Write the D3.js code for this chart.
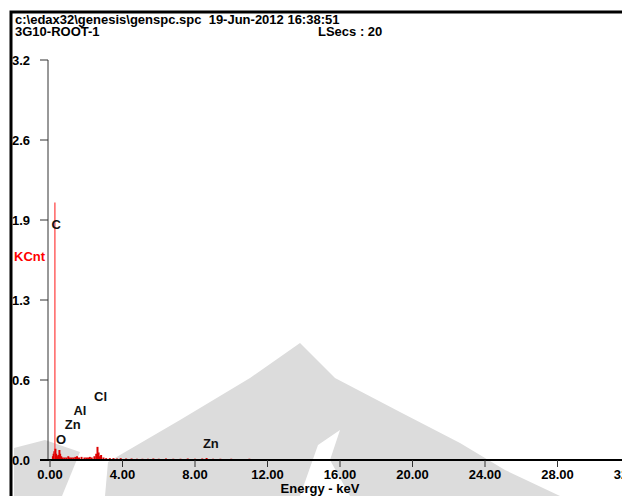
<!DOCTYPE html>
<html>
<head>
<meta charset="utf-8">
<script src="https://cdn.jsdelivr.net/npm/d3@7"></script>
<style>
  body { margin: 0; background: #fff; }
  svg text { font-family: Arial, "Liberation Sans", sans-serif; font-weight: bold; white-space: pre; }
</style>
</head>
<body>
<div id="chart"></div>
<script>
// spectrum channels (keV, KCnt)
const energyKeV = [0.16, 0.20, 0.24, 0.27, 0.30, 0.34, 0.40, 0.46, 0.52, 0.56, 0.62, 0.70, 0.80, 0.90,
  1.01, 1.10, 1.20, 1.30, 1.40, 1.49, 1.60, 1.74, 1.90, 2.00, 2.10, 2.20, 2.30, 2.45, 2.55, 2.62,
  2.68, 2.75, 2.82, 2.95, 3.10, 3.30, 3.50, 3.70, 3.90, 4.20, 4.50, 4.80, 5.10, 5.40, 5.70, 6.00,
  6.40, 6.80, 7.20, 7.60, 8.00, 8.40, 8.64, 9.00, 9.40, 10.00, 10.40, 11.00, 11.40, 12.30, 12.80];
const countsKCnt = [0.03, 0.05, 0.07, 2.06, 0.09, 0.05, 0.03, 0.04, 0.08, 0.05, 0.03, 0.02, 0.02, 0.02,
  0.03, 0.02, 0.02, 0.02, 0.025, 0.03, 0.02, 0.025, 0.02, 0.02, 0.02, 0.025, 0.02, 0.03, 0.05, 0.105,
  0.06, 0.03, 0.04, 0.02, 0.015, 0.015, 0.015, 0.012, 0.015, 0.012, 0.012, 0.01, 0.01, 0.01, 0.012, 0.01,
  0.012, 0.01, 0.01, 0.012, 0.01, 0.012, 0.016, 0.01, 0.01, 0.01, 0.008, 0.01, 0.008, 0.008, 0.008];

// element markers
const peakNames = ["C", "O", "Zn", "Al", "Cl", "Zn"];
const peakKeV = [0.277, 0.525, 1.012, 1.486, 2.622, 8.630];
const peakLabelKCnt = [1.85, 0.13, 0.25, 0.36, 0.47, 0.10];

const yTicks = [0, 0.64, 1.28, 1.92, 2.56, 3.2];
const xTicks = [0, 4, 8, 12, 16, 20, 24, 28, 32];

const W = 622, H = 496;
const svg = d3.select("#chart").append("svg")
    .attr("width", W)
    .attr("height", H);

// faint background watermark
const wm = svg.append("g").attr("fill", "#dcdcdc");
wm.append("path")
    .attr("d", "M105,496 L108,462 L180,420 L250,378 L300,343 L335,378 L400,412 L460,443 L505,470 L560,496 Z");
wm.append("path")
    .attr("d", "M14,496 L14,448 L45,440 L80,452 L62,496 Z");
wm.append("path")
    .attr("fill", "#fff")
    .attr("d", "M300,496 L318,445 L340,430 L330,460 L350,496 Z");

// frame
svg.append("path")
    .attr("d", `M11,${H} L11,12 L${W},12`)
    .attr("fill", "none")
    .attr("stroke", "#000")
    .attr("stroke-width", 3);

const x = d3.scaleLinear().domain([0, 32]).range([50, 630]);
const y = d3.scaleLinear().domain([0, 3.2]).range([460, 60]);

// header
svg.append("text").attr("x", 15).attr("y", 24).style("font-size", "13px")
    .text("c:\\edax32\\genesis\\genspc.spc  19-Jun-2012 16:38:51");
svg.append("text").attr("x", 15).attr("y", 36).style("font-size", "13px")
    .text("3G10-ROOT-1");
svg.append("text").attr("x", 318).attr("y", 36).style("font-size", "13px")
    .text("LSecs : 20");

// y axis
const yAxis = svg.append("g");
yAxis.append("line")
    .attr("x1", 48).attr("x2", 48)
    .attr("y1", y(3.2)).attr("y2", y(0))
    .attr("stroke", "#333");
yAxis.selectAll(".ytick")
    .data(yTicks)
  .enter().append("line")
    .attr("x1", 40).attr("x2", 48)
    .attr("y1", d => y(d)).attr("y2", d => y(d))
    .attr("stroke", "#333");
yAxis.selectAll(".ylab")
    .data(yTicks)
  .enter().append("text")
    .attr("x", 12)
    .attr("y", d => y(d))
    .attr("dy", "0.35em")
    .style("font-size", "13px")
    .text(d => d3.format(".1f")(d));

svg.append("text")
    .attr("x", 14).attr("y", 261)
    .style("font-size", "13px")
    .style("fill", "#ff0000")
    .text("KCnt");

// spectrum
svg.append("g").selectAll("line")
    .data(energyKeV)
  .enter().append("line")
    .attr("x1", d => x(d)).attr("x2", d => x(d))
    .attr("y1", y(0))
    .attr("y2", (d, i) => y(countsKCnt[i]))
    .attr("stroke", (d, i) => countsKCnt[i] > 1 ? "#ff4a4a" : "#dd0000")
    .attr("stroke-width", (d, i) => countsKCnt[i] > 1 ? 1.3 : 2);

// x axis
const xAxis = svg.append("g");
xAxis.append("line")
    .attr("x1", 40).attr("x2", W)
    .attr("y1", 460).attr("y2", 460)
    .attr("stroke", "#000")
    .attr("stroke-width", 2);
xAxis.selectAll(".xtick")
    .data(xTicks)
  .enter().append("line")
    .attr("x1", d => x(d)).attr("x2", d => x(d))
    .attr("y1", 460).attr("y2", 467)
    .attr("stroke", "#333");
xAxis.selectAll(".xlab")
    .data(xTicks)
  .enter().append("text")
    .attr("x", d => x(d))
    .attr("y", 479)
    .attr("text-anchor", "middle")
    .style("font-size", "13px")
    .text(d => d3.format(".2f")(d));

svg.append("text")
    .attr("x", 320).attr("y", 493)
    .attr("text-anchor", "middle")
    .style("font-size", "13px")
    .text("Energy - keV");

// element labels
svg.selectAll(".peak")
    .data(peakNames)
  .enter().append("text")
    .attr("x", (d, i) => x(peakKeV[i]) - 3.5)
    .attr("y", (d, i) => y(peakLabelKCnt[i]))
    .style("font-size", "13px")
    .style("fill", "#111")
    .text(d => d);
</script>
</body>
</html>
